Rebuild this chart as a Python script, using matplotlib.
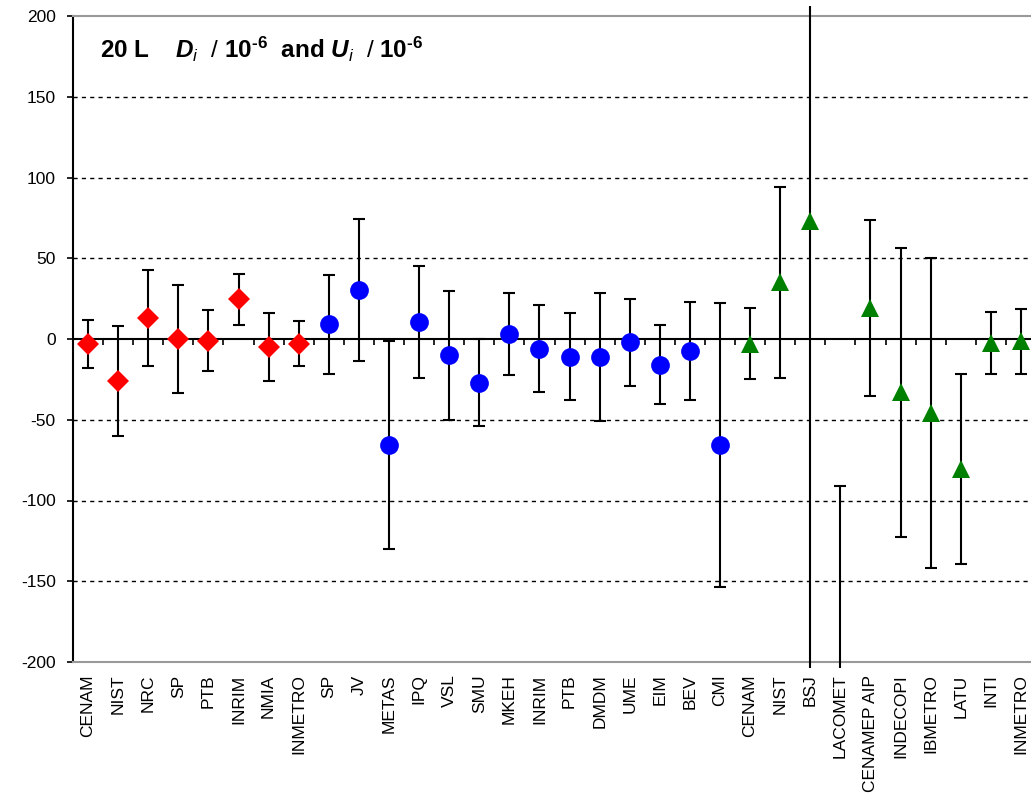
import matplotlib
import matplotlib.pyplot as plt
import numpy as np
from matplotlib.transforms import Bbox, TransformedBbox

matplotlib.use("Agg")

plt.rcParams["font.family"] = ["Liberation Sans", "DejaVu Sans"]
plt.rcParams["axes.unicode_minus"] = False
plt.rcParams["mathtext.fontset"] = "custom"
plt.rcParams["mathtext.rm"] = "Liberation Sans:bold"
plt.rcParams["mathtext.it"] = "Liberation Sans:bold:italic"
plt.rcParams["mathtext.bf"] = "Liberation Sans:bold"
plt.rcParams["mathtext.sf"] = "Liberation Sans"
plt.rcParams["mathtext.cal"] = "Liberation Sans:italic"

# participants, grouped by marker
red_labels = ["CENAM", "NIST", "NRC", "SP", "PTB", "INRIM", "NMIA", "INMETRO"]
red_d = [-3, -26, 13, 0, -1, 24.5, -5, -3]
red_u = [15, 34, 30, 33.5, 19, 16, 21, 14]

blue_labels = ["SP", "JV", "METAS", "IPQ", "VSL", "SMU", "MKEH", "INRIM",
               "PTB", "DMDM", "UME", "EIM", "BEV", "CMI"]
blue_d = [9, 30.5, -65.5, 10.5, -10, -27, 3, -6, -11, -11, -2, -16, -7.5, -65.5]
blue_u = [30.5, 44, 64.5, 34.5, 40, 27, 25.5, 27, 27, 39.5, 27, 24.5, 30.5, 88]

green_labels = ["CENAM", "NIST", "BSJ", "LACOMET", "CENAMEP AIP", "INDECOPI",
                "IBMETRO", "LATU", "INTI", "INMETRO"]
green_d = [-3, 35, 73, -250, 19, -33, -46, -80.5, -2.5, -1.5]
green_u = [22, 59, 300, 159, 54.5, 89.5, 96, 59, 19, 20]

y_ticks = [-200, -150, -100, -50, 0, 50, 100, 150, 200]

labels = red_labels + blue_labels + green_labels
n = len(labels)

fig = plt.figure(figsize=(10.31, 8.01), dpi=100)
ax = fig.add_axes([73 / 1031, 139 / 801, 963 / 1031, 646 / 801])

clip = TransformedBbox(Bbox.from_extents(-0.01, -0.01, 1.01, 1.016), ax.transAxes)

groups = [
    (red_d, red_u, "D", 11, "#ff0000"),
    (blue_d, blue_u, "o", 13.5, "#0000ff"),
    (green_d, green_u, "^", 12.5, "#008000"),
]
start = 0
for d, u, marker, ms, color in groups:
    x = np.arange(start, start + len(d))
    start += len(d)
    line, caps, bars = ax.errorbar(
        x, d, yerr=u, fmt="none", ecolor="black", elinewidth=1.5,
        capsize=4, capthick=1.5, zorder=3,
    )
    for b in bars:
        b.set_clip_box(clip)
    ax.plot(x, d, linestyle="none", marker=marker, markersize=ms,
            markerfacecolor=color, markeredgewidth=0, zorder=4)

ax.set_xlim(-0.5, n - 0.5)
ax.set_ylim(-200, 200)
ax.set_xticks(np.arange(n))
ax.set_xticklabels(labels, rotation=90, fontsize=12.5)
ax.tick_params(axis="x", length=0, pad=9)
ax.set_yticks(y_ticks)
ax.tick_params(axis="y", direction="out", length=4.5, width=1.2,
               labelsize=12.5, pad=8)

ax.yaxis.grid(True, linestyle=(0, (3, 3)), color="black", linewidth=1)
ax.set_axisbelow(True)
for g, t in zip(ax.get_ygridlines(), y_ticks):
    if t in (-200, 0, 200):
        g.set_visible(False)

for side in ["top", "bottom", "right"]:
    ax.spines[side].set_color("#999999")
    ax.spines[side].set_linewidth(1.5)
ax.spines["left"].set_color("black")
ax.spines["left"].set_linewidth(1.5)

# zero line with category boundary ticks hanging below it
ax.axhline(0, color="black", linewidth=1.5, zorder=2)
zero = ax.secondary_xaxis(0.5)
zero.set_xticks(np.arange(n - 1) + 0.5)
zero.set_xticklabels([])
zero.tick_params(direction="in", length=4, width=1.2, color="black")
for s in zero.spines.values():
    s.set_visible(False)

ax.text(0.028, 0.935,
        r"20 L    $D_{\mathcal{i}}$  $\mathsf{/}$ 10$^{\text{-}6}$  and "
        r"$U_{\mathcal{i}}$  $\mathsf{/}$ 10$^{\text{-}6}$",
        transform=ax.transAxes, fontsize=17.5, fontweight="bold",
        va="baseline", ha="left")

fig.savefig("out.png", dpi=100, facecolor="white")
